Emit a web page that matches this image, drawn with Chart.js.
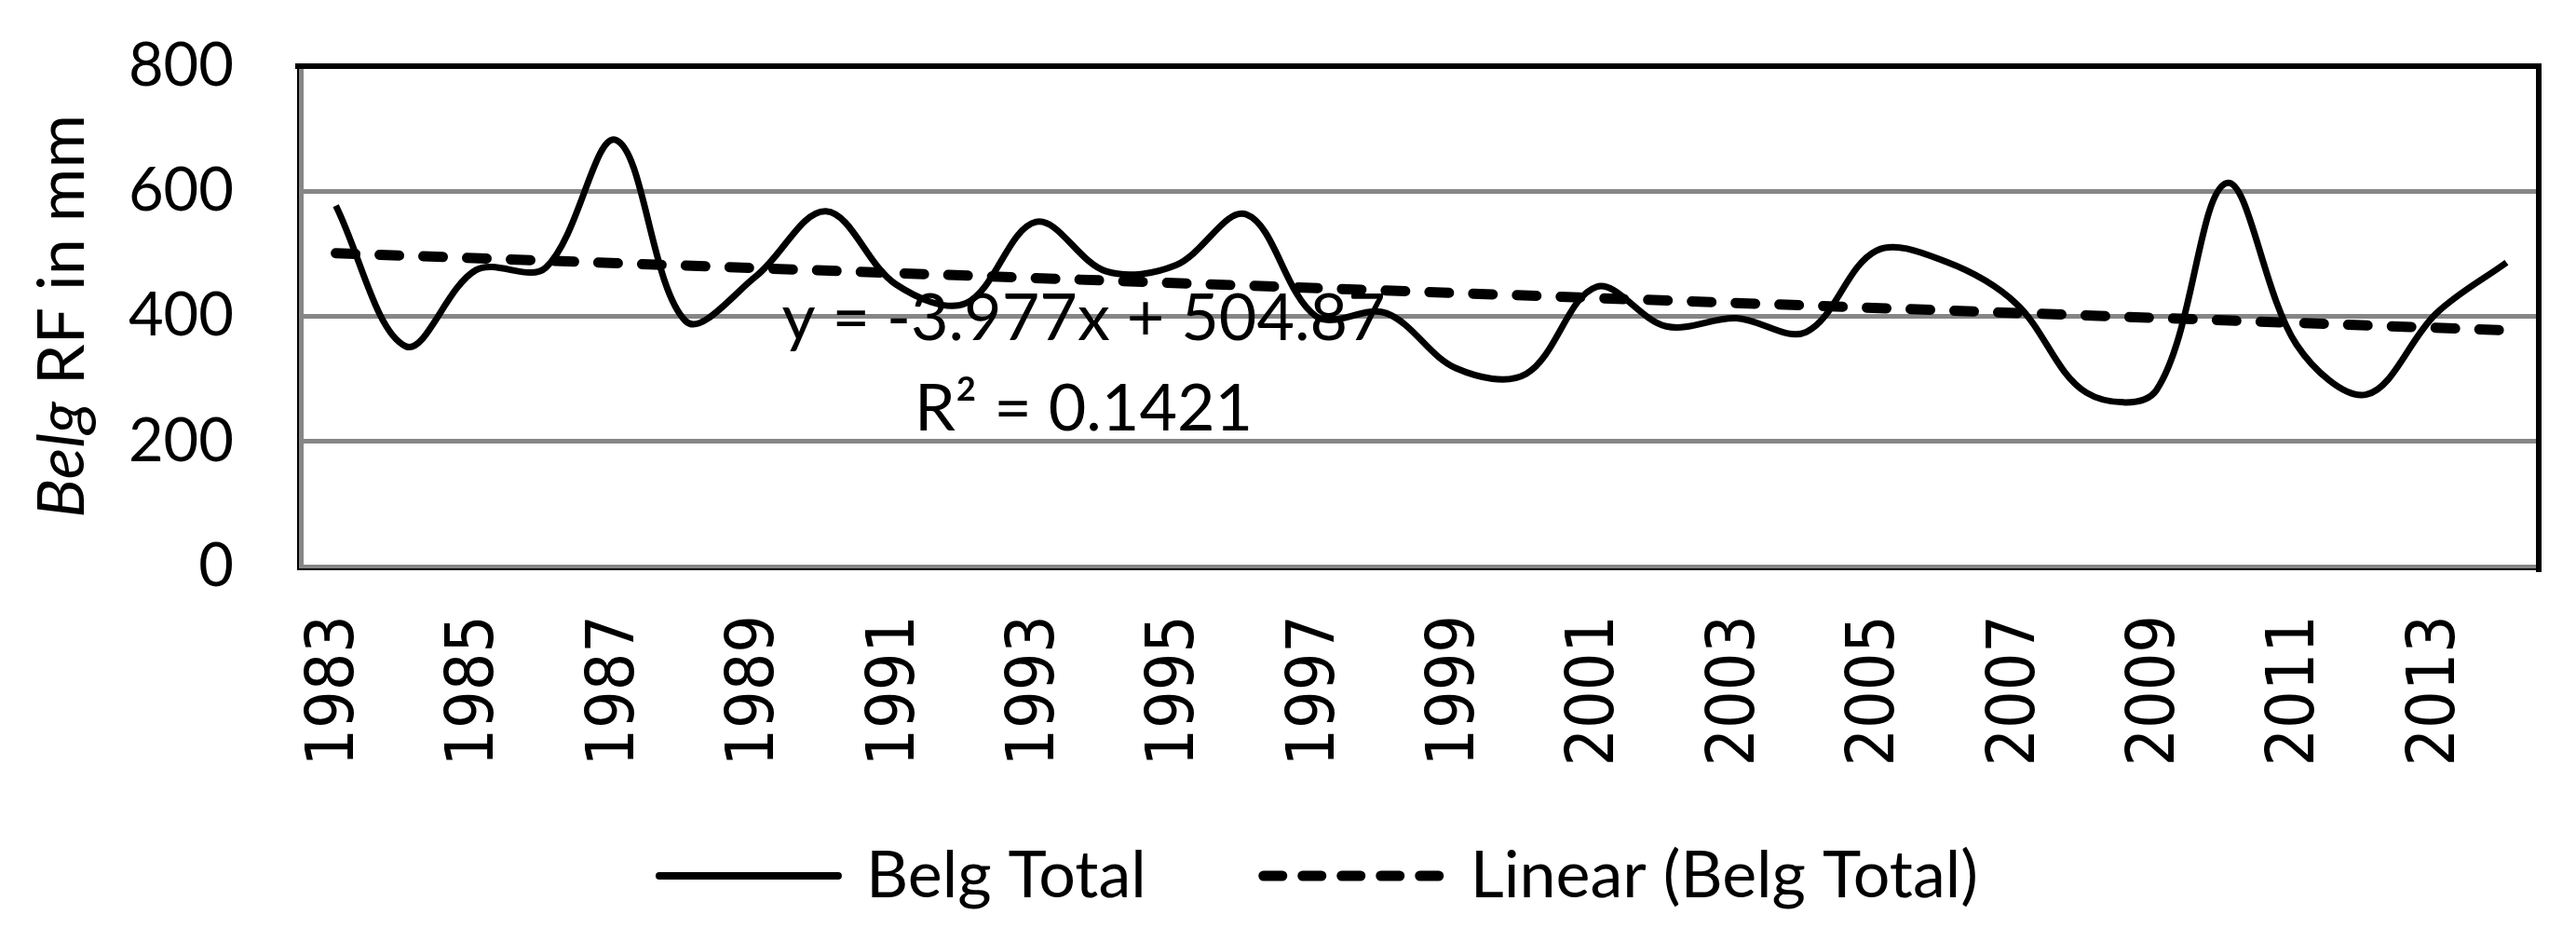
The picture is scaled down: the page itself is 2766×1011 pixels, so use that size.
<!DOCTYPE html>
<html>
<head>
<meta charset="utf-8">
<title>Belg Total</title>
<script src="https://cdn.jsdelivr.net/npm/chart.js@4.4.1/dist/chart.umd.min.js"></script>
<style>
  html, body { margin: 0; padding: 0; background: #fff; }
  canvas { display: block; }
</style>
</head>
<body>
<canvas id="belgChart" width="2766" height="1011"></canvas>
<script>
// data
const years = ["1983", "1984", "1985", "1986", "1987", "1988", "1989", "1990",
               "1991", "1992", "1993", "1994", "1995", "1996", "1997", "1998",
               "1999", "2000", "2001", "2002", "2003", "2004", "2005", "2006",
               "2007", "2008", "2009", "2010", "2011", "2012", "2013", "2014"];
const belgTotal = [577, 352, 474, 478, 682, 392, 464, 568,
                   451, 421, 551, 472, 482, 563, 400, 405,
                   317, 308, 447, 384, 397, 375, 505, 487,
                   420, 278, 282, 613, 355, 275, 405, 486];
const trendYears  = ["1983", "2014"];
const trendValues = [500.9, 377.6];
const yTicks = [0, 200, 400, 600, 800];
const equationLines = ["y = -3.977x + 504.87", "R\u00B2 = 0.1421"];

const GRID = "#868686";
const FONT = "Lato, 'Open Sans', sans-serif";

// plot frame: black top/right, thin black outer edge left/bottom
const framePlugin = {
  id: "frame",
  beforeDatasetsDraw(chart) {
    const { ctx, chartArea: a } = chart;
    ctx.save();
    ctx.strokeStyle = "#000";
    ctx.lineCap = "square";
    ctx.lineWidth = 6;
    ctx.beginPath();
    ctx.moveTo(a.left - 3, a.top);
    ctx.lineTo(a.right - 3, a.top);
    ctx.lineTo(a.right - 3, a.bottom + 3);
    ctx.stroke();
    ctx.lineWidth = 2;
    ctx.beginPath();
    ctx.moveTo(a.left - 3, a.top);
    ctx.lineTo(a.left - 3, a.bottom + 3);
    ctx.lineTo(a.right - 3, a.bottom + 3);
    ctx.stroke();
    ctx.restore();
  }
};

// axis title with italic "Belg", trendline equation, legend
const textPlugin = {
  id: "texts",
  afterDraw(chart) {
    const { ctx, chartArea: a, scales } = chart;
    ctx.save();
    ctx.fillStyle = "#000";

    // y title
    const partA = "Belg", partB = " RF in mm";
    ctx.translate(90, (a.top + a.bottom) / 2);
    ctx.rotate(-Math.PI / 2);
    ctx.textBaseline = "alphabetic";
    ctx.textAlign = "left";
    ctx.font = "italic 70px " + FONT;
    const wA = ctx.measureText(partA).width;
    ctx.font = "70px " + FONT;
    const wB = ctx.measureText(partB).width;
    const tx = -(wA + wB) / 2;
    ctx.font = "italic 70px " + FONT;
    ctx.fillText(partA, tx, 0);
    ctx.font = "70px " + FONT;
    ctx.fillText(partB, tx + wA, 0);
    ctx.setTransform(1, 0, 0, 1, 0, 0);

    // trendline equation
    ctx.font = "70px " + FONT;
    ctx.textAlign = "center";
    const eqX = scales.x.getPixelForValue(10.68);
    ctx.fillText(equationLines[0], eqX, scales.y.getPixelForValue(362));
    ctx.fillText(equationLines[1], eqX, scales.y.getPixelForValue(217));

    // legend
    const lineLen = 202, gap = 25, itemGap = 121, ly = 940;
    ctx.textAlign = "left";
    const items = chart.data.datasets.map(ds => ({
      label: ds.label, dash: ds.borderDash || [], width: ds.borderWidth,
      w: ctx.measureText(ds.label).width
    }));
    const total = items.reduce((s, it) => s + lineLen + gap + it.w, 0) + itemGap * (items.length - 1);
    let x = chart.width * 0.511 - total / 2;
    items.forEach(it => {
      ctx.strokeStyle = "#000";
      ctx.lineWidth = Math.max(it.width, 8);
      ctx.lineCap = "round";
      ctx.setLineDash(it.dash.length ? [20, 22] : []);
      ctx.beginPath();
      ctx.moveTo(x + 5, ly);
      ctx.lineTo(x + lineLen - 5, ly);
      ctx.stroke();
      ctx.setLineDash([]);
      ctx.fillText(it.label, x + lineLen + gap, ly + 23);
      x += lineLen + gap + it.w + itemGap;
    });
    ctx.restore();
  }
};

function buildChart() {
  const ctx = document.getElementById("belgChart").getContext("2d");
  new Chart(ctx, {
    type: "line",
    data: {
      labels: years,
      datasets: [{
        label: "Belg Total",
        data: belgTotal,
        borderColor: "#000",
        borderWidth: 7,
        tension: 0.35,
        pointRadius: 0,
        fill: false
      }, {
        label: "Linear (Belg Total)",
        data: trendYears.map((yr, i) => ({ x: yr, y: trendValues[i] })),
        borderColor: "#000",
        borderWidth: 11,
        borderDash: [21, 26],
        borderCapStyle: "round",
        tension: 0,
        pointRadius: 0,
        fill: false
      }]
    },
    options: {
      responsive: false,
      devicePixelRatio: 1,
      animation: false,
      layout: { padding: { top: 71, right: 37, left: 0, bottom: 0 } },
      plugins: { legend: { display: false }, tooltip: { enabled: false } },
      scales: {
        x: {
          offset: true,
          grid: { display: false, drawTicks: false },
          border: { display: false },
          ticks: {
            autoSkip: false,
            maxRotation: 90,
            minRotation: 90,
            padding: 52,
            color: "#000",
            font: { family: "'DejaVu Sans Condensed', 'DejaVu Sans'", size: 71 },
            callback: (val, i) => (i % 2 === 0 ? years[i] : "")
          },
          afterFit: scale => {
            scale.height = 403;
            scale.paddingLeft = 0;
            scale.paddingRight = 0;
          }
        },
        y: {
          min: 0,
          max: 800,
          afterBuildTicks: scale => { scale.ticks = yTicks.map(v => ({ value: v })); },
          grid: { color: GRID, lineWidth: 5, drawTicks: false },
          border: { color: GRID, width: 5 },
          ticks: {
            padding: 72,
            color: "#000",
            font: { family: FONT, size: 65 }
          },
          afterFit: scale => {
            scale.width = 323;
            scale.paddingTop = 0;
            scale.paddingBottom = 0;
          }
        }
      }
    },
    plugins: [framePlugin, textPlugin]
  });
}

Promise.all([
  document.fonts.load("70px Lato"),
  document.fonts.load("italic 70px Lato"),
  document.fonts.load("66px 'DejaVu Sans Condensed'")
]).catch(() => {}).then(buildChart);
</script>
</body>
</html>
